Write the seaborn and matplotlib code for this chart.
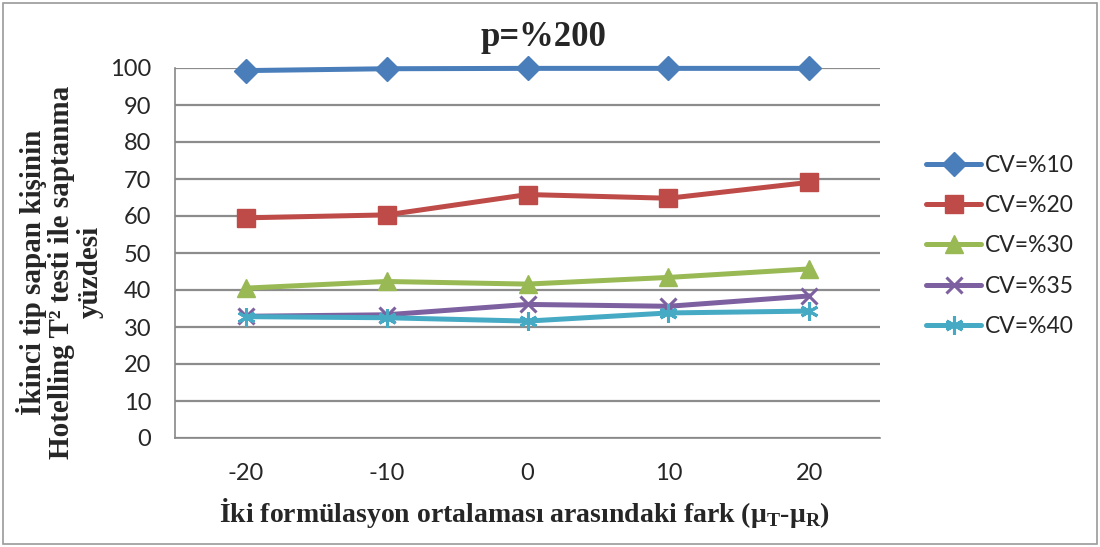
import numpy as np
import pandas as pd
import matplotlib
matplotlib.use("Agg")
import matplotlib.pyplot as plt
from matplotlib.lines import Line2D
from matplotlib.patches import Rectangle
import seaborn as sns

categories = ["-20", "-10", "0", "10", "20"]
series_names = ["CV=%10", "CV=%20", "CV=%30", "CV=%35", "CV=%40"]
cv10 = [99.3, 99.8, 99.9, 99.9, 99.9]
cv20 = [59.5, 60.3, 65.8, 64.8, 69.1]
cv30 = [40.5, 42.3, 41.6, 43.4, 45.7]
cv35 = [32.9, 33.3, 36.1, 35.6, 38.4]
cv40 = [32.8, 32.5, 31.6, 33.8, 34.3]
title = "p=%200"
ylabel = "İkinci tip sapan kişinin\nHotelling T² testi ile saptanma\nyüzdesi"
xlabel = r"İki formülasyon ortalaması arasındaki fark (μ$_{\mathbf{T}}$-μ$_{\mathbf{R}}$)"

values = [cv10, cv20, cv30, cv35, cv40]
colors = ["#4A7EBB", "#BE4B48", "#98B954", "#7D60A0", "#46AAC5"]
markers = ["D", "s", "^", "x", (6, 2, 0)]
msizes = [12.5, 13, 13, 12, 13]
mews = [1, 1, 1, 2.2, 2.2]

sns.set_theme(style="white")
plt.rcParams["mathtext.fontset"] = "custom"
plt.rcParams["mathtext.rm"] = "Liberation Serif:bold"
plt.rcParams["mathtext.bf"] = "Liberation Serif:bold"
plt.rcParams["font.family"] = ["Lato", "DejaVu Sans"]

fig = plt.figure(figsize=(11, 5.47), dpi=100)
ax = fig.add_axes([175/1100, 1-438/547, (880-175)/1100, (438-68)/547])

for name, vals, c, m, ms, mew in zip(series_names, values, colors, markers, msizes, mews):
    df = pd.DataFrame({"x": categories, "y": vals})
    sns.pointplot(data=df, x="x", y="y", order=categories, color=c, markers=m,
                  errorbar=None, ax=ax, linewidth=3.6, markersize=ms,
                  markeredgewidth=mew)
for ln in ax.lines:
    ln.set_clip_on(False)

ax.set_ylim(0, 100)
ax.set_yticks(np.arange(0, 101, 10))
ax.set_xlim(-0.5, 4.5)
ax.set_xticks(np.arange(-0.5, 4.6, 1.0))
ax.set_xticklabels([])
ax.set_xticks(np.arange(0, 5), minor=True)
ax.set_xticklabels(categories, minor=True)
ax.tick_params(axis="x", which="major", length=8, width=1.2, color="#888888", direction="out")
ax.tick_params(axis="x", which="minor", length=0, pad=18, labelsize=17)
ax.tick_params(axis="y", length=5, width=1.2, color="#888888", direction="out", pad=12, labelsize=17)
ax.yaxis.grid(True, color="#8C8C8C", linewidth=1.6)
ax.set_axisbelow(True)
for s in ["top", "right"]:
    ax.spines[s].set_visible(False)
for s in ["left", "bottom"]:
    ax.spines[s].set_color("#888888")
    ax.spines[s].set_linewidth(1.2)

ax.set_xlabel("")
ax.set_ylabel("")
fig.text(0.477, 1-513/547, xlabel, ha="center", va="center", fontsize=20,
         fontweight="bold", family="Liberation Serif")
fig.text(60/1100, 1-272/547, ylabel, ha="center", va="center", rotation=90,
         fontsize=21, fontweight="bold", family="Liberation Serif", linespacing=1.05)
fig.text(543/1100, 1-38/547, title, ha="center", va="center", fontsize=25,
         fontweight="bold", family="Liberation Serif")

handles = [Line2D([0], [0], color=c, lw=3.6, marker=m, markersize=ms, markeredgewidth=mew)
           for c, m, ms, mew in zip(colors, markers, msizes, mews)]
fig.legend(handles, series_names, loc="center left", bbox_to_anchor=(917/1100, 1-246/547),
           frameon=False, fontsize=16.5, handlelength=2.4, handletextpad=0.15,
           labelspacing=0.83, borderaxespad=0)

fig.patches.append(Rectangle((3/1100, 3/547), 1094/1100, 541/547, transform=fig.transFigure,
                             fill=False, edgecolor="#9A9A9A", linewidth=1.2))

fig.savefig("out.png", dpi=100)
